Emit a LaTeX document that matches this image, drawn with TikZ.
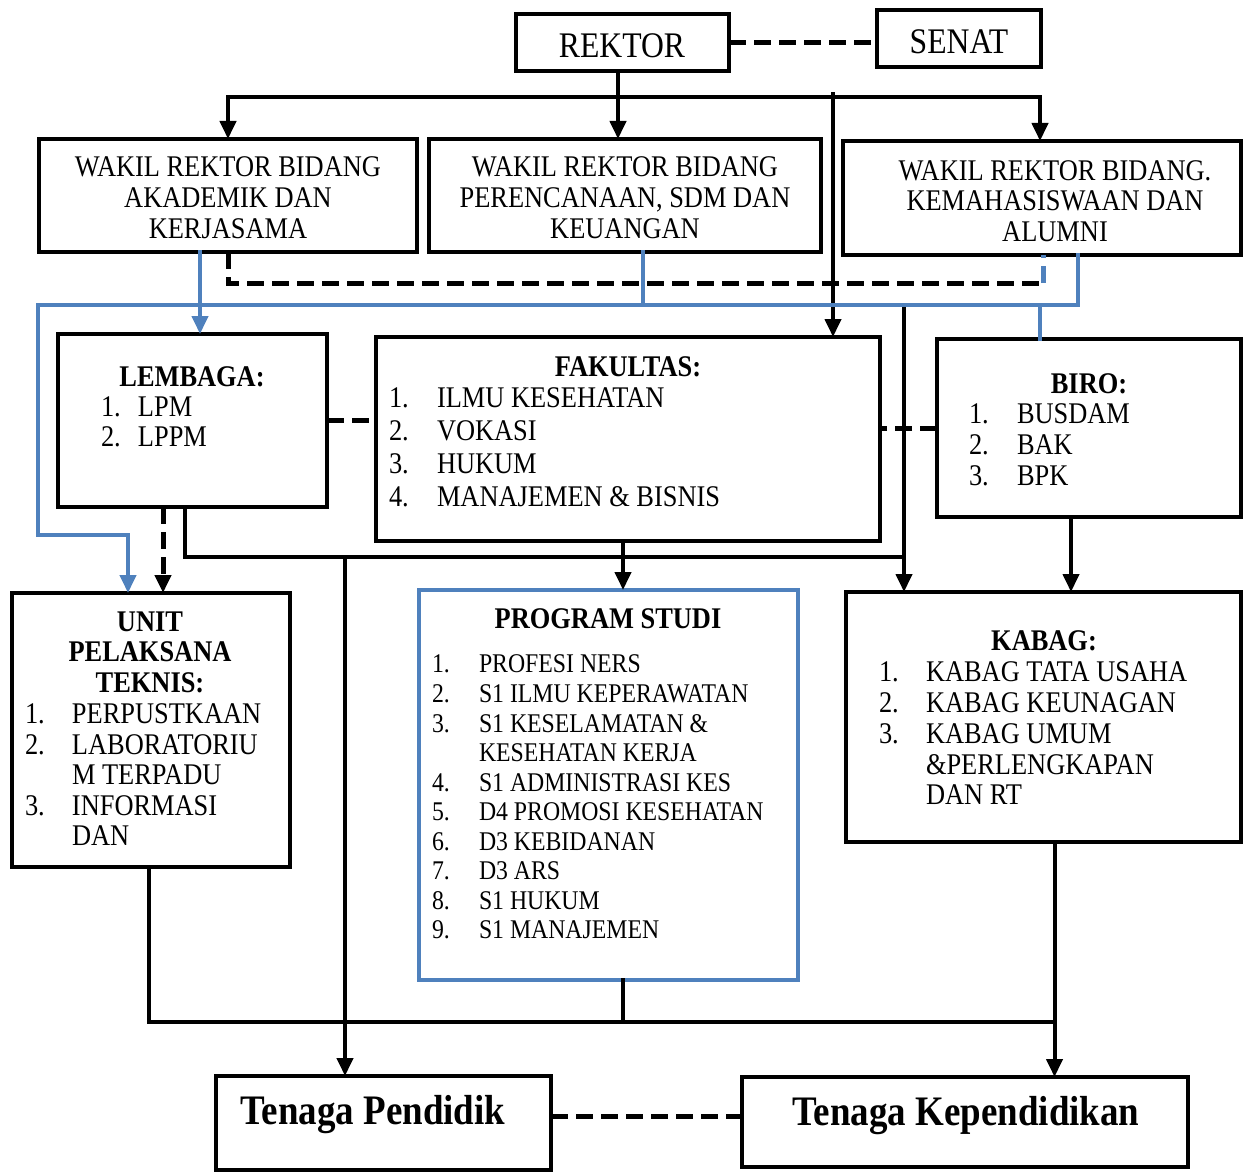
\documentclass[tikz,border=0pt]{standalone}
\usepackage{fontspec}
\setmainfont{Liberation Serif}[FakeStretch=0.88]
\usetikzlibrary{arrows.meta,calc}
\definecolor{bl}{HTML}{4F81BD}
\tikzset{
 box/.style={draw=black, line width=4.8pt, inner sep=0pt, outer sep=0pt, anchor=north west},
 bluebox/.style={box, draw=bl, line width=4.2pt},
 ln/.style={line width=4pt, draw=black, line cap=rect},
 bln/.style={line width=4pt, draw=bl, line cap=rect},
 dsh/.style={line width=5pt, line cap=butt, dash pattern=on 17pt off 8pt},
 arr/.style={-{Triangle[width=16pt,length=18pt]}},
 txt/.style={inner sep=0pt, outer sep=0pt, font=\fontsize{30}{31}\selectfont},
 tb/.style={inner sep=0pt, outer sep=0pt, font=\fontsize{30}{30.5}\selectfont\bfseries},
 lst/.style={inner sep=0pt, outer sep=0pt, anchor=north west, align=left},
}
\begin{document}
\begin{tikzpicture}[x=1pt,y=-1pt]
\useasboundingbox (0,0) rectangle (1244,1174);
% boxes
\node[box, minimum width=213, minimum height=57] (rek) at (516,14) {};
\node[box, minimum width=164, minimum height=57] (sen) at (877,10) {};
\node[box, minimum width=378, minimum height=113] (wr1) at (39,139) {};
\node[box, minimum width=392, minimum height=113] (wr2) at (429,139) {};
\node[box, minimum width=398, minimum height=114] (wr3) at (843,141) {};
\node[box, minimum width=269, minimum height=173] (lem) at (58,334) {};
\node[box, minimum width=504, minimum height=204] (fak) at (376,337) {};
\node[box, minimum width=304, minimum height=178] (biro) at (937,339) {};
\node[box, minimum width=278, minimum height=274] (upt) at (12,593) {};
\node[bluebox, minimum width=379, minimum height=390] (ps) at (419,590) {};
\node[box, minimum width=395, minimum height=250] (kab) at (846,592) {};
\node[box, minimum width=335, minimum height=94] (tp) at (216,1076) {};
\node[box, minimum width=446, minimum height=90] (tk) at (742,1077) {};
% texts
\node[txt, font=\fontsize{36}{38}\selectfont] (trek) at (622,46) {REKTOR};
\node[txt, font=\fontsize{36}{38}\selectfont] (tsen) at (959,42) {SENAT};
\node[txt, align=center] (twr1) at (228,198) {WAKIL REKTOR BIDANG\\AKADEMIK DAN\\KERJASAMA};
\node[txt, align=center] (twr2) at (625,198) {WAKIL REKTOR BIDANG\\PERENCANAAN, SDM DAN\\KEUANGAN};
\node[txt, align=center, font=\fontsize{30}{30.5}\selectfont] (twr3) at (1055,201) {WAKIL REKTOR BIDANG.\\KEMAHASISWAAN DAN\\ALUMNI};
\node[tb] (tlem) at (192,377) {LEMBAGA:};
\node[lst, font=\fontsize{30}{30}\selectfont] (llem) at (101,397) {\makebox[37pt][l]{1.}LPM\\\makebox[37pt][l]{2.}LPPM};
\node[tb] (tfak) at (628,367) {FAKULTAS:};
\node[lst, font=\fontsize{30}{33}\selectfont] (lfak) at (389,388) {\makebox[48pt][l]{1.}ILMU KESEHATAN\\\makebox[48pt][l]{2.}VOKASI\\\makebox[48pt][l]{3.}HUKUM\\\makebox[48pt][l]{4.}MANAJEMEN \& BISNIS};
\node[tb] (tbiro) at (1089,384) {BIRO:};
\node[lst, font=\fontsize{30}{31}\selectfont] (lbiro) at (969,404) {\makebox[48pt][l]{1.}BUSDAM\\\makebox[48pt][l]{2.}BAK\\\makebox[48pt][l]{3.}BPK};
\node[tb, align=center] (tupt) at (150,652) {UNIT\\PELAKSANA\\TEKNIS:};
\node[lst, font=\fontsize{30}{30.5}\selectfont] (lupt) at (25,704) {\makebox[47pt][l]{1.}PERPUSTKAAN\\\makebox[47pt][l]{2.}LABORATORIU\\\makebox[47pt][l]{}M TERPADU\\\makebox[47pt][l]{3.}INFORMASI\\\makebox[47pt][l]{}DAN};
\node[tb] (tps) at (608,619) {PROGRAM STUDI};
\node[lst, font=\fontsize{27}{29.56}\selectfont] (lps) at (432,655) {\makebox[47pt][l]{1.}PROFESI NERS\\\makebox[47pt][l]{2.}S1 ILMU KEPERAWATAN\\\makebox[47pt][l]{3.}S1 KESELAMATAN \&\\\makebox[47pt][l]{}KESEHATAN KERJA\\\makebox[47pt][l]{4.}S1 ADMINISTRASI KES\\\makebox[47pt][l]{5.}D4 PROMOSI KESEHATAN\\\makebox[47pt][l]{6.}D3 KEBIDANAN\\\makebox[47pt][l]{7.}D3 ARS\\\makebox[47pt][l]{8.}S1 HUKUM\\\makebox[47pt][l]{9.}S1 MANAJEMEN};
\node[tb] (tkab) at (1044,641) {KABAG:};
\node[lst, font=\fontsize{30}{30.75}\selectfont] (lkab) at (879,662) {\makebox[47pt][l]{1.}KABAG TATA USAHA\\\makebox[47pt][l]{2.}KABAG KEUNAGAN\\\makebox[47pt][l]{3.}KABAG UMUM\\\makebox[47pt][l]{}\&PERLENGKAPAN\\\makebox[47pt][l]{}DAN RT};
\node[inner sep=0pt, font=\fontsize{42}{44}\selectfont\bfseries] (ttp) at (373,1115) {Tenaga Pendidik};
\node[inner sep=0pt, font=\fontsize{42}{44}\selectfont\bfseries] (ttk) at (966,1116) {Tenaga Kependidikan};
% coordinates
\coordinate (rk) at ($(rek.south)+(-4.5,0)$);
\coordinate (barL) at (228,97);
\coordinate (barR) at (1040,97);
\coordinate (fkT) at (833,94);
\coordinate (dL) at ($(wr1.south)+(0,31)$);
\coordinate (dR) at (1043,283);
\coordinate (bv) at ($(lem.north)+(7.5,0)$);
\coordinate (bh) at (1078,305);
\coordinate (bl1) at (38,305);
\coordinate (bl2) at (38,535);
\coordinate (bu) at ($(upt.north)+(-23,0)$);
\coordinate (b2) at ($(wr2.south)+(18,0)$);
\coordinate (b3) at ($(biro.north)+(-49,0)$);
\coordinate (l1) at ($(lem.south)+(-29.5,0)$);
\coordinate (l2) at ($(lem.south)+(-7.5,0)$);
\coordinate (h1) at (904,557);
\coordinate (v1) at (904,307);
\coordinate (v2) at (345,557);
\coordinate (f1) at ($(fak.south)+(-5,0)$);
\coordinate (br) at ($(biro.south)+(-18,0)$);
\coordinate (u1) at ($(upt.south)+(-2,0)$);
\coordinate (p1) at ($(ps.south)+(14.5,0)$);
\coordinate (k1) at ($(kab.south)+(11,0)$);
\coordinate (hb) at ($(k1)+(0,180)$);
\coordinate (t1) at ($(tp.east)+(0,-7)$);
% black solid
\draw[ln] (barL) -- (barR);
\draw[ln,arr] (rk) -- (rk |- wr2.north);
\draw[ln,arr] (barL) -- (barL |- wr1.north);
\draw[ln,arr] (barR) -- (barR |- wr3.north);
\draw[ln,arr] (fkT) -- (fkT |- fak.north);
\draw[ln] (l2) |- (h1);
\draw[ln,arr] (v1) -- (v1 |- kab.north);
\draw[ln,arr] (v2) -- (v2 |- tp.north);
\draw[ln,arr] (f1) -- (f1 |- ps.north);
\draw[ln,arr] (br) -- (br |- kab.north);
\draw[ln] (u1) |- (hb);
\draw[ln] (p1) -- (p1 |- hb);
\draw[ln,arr] (k1) -- (k1 |- tk.north);
% blue
\draw[bln,arr] (bv |- wr1.south) -- (bv);
\draw[bln,arr] (bh |- wr3.south) -- (bh) -- (bl1) -- (bl2) -| (bu);
\draw[bln] (b2) -- (b2 |- bh);
\draw[bln] (b3 |- bh) -- (b3);
% dashed
\draw[ln,dsh] (wr1.south) -- (dL) -- (dR);
\draw[bln,dsh] (dR) -- (dR |- wr3.south);
\draw[ln,dsh,arr] (l1) -- (l1 |- upt.north);
\draw[ln,dsh] (rek.east) -- (rek.east -| sen.west);
\draw[ln,dsh] (lem.east) -- (lem.east -| fak.west);
\draw[ln,dsh] (biro.west) -- (biro.west -| fak.east);
\draw[ln,dsh] (t1) -- (t1 -| tk.west);
\end{tikzpicture}
\end{document}
